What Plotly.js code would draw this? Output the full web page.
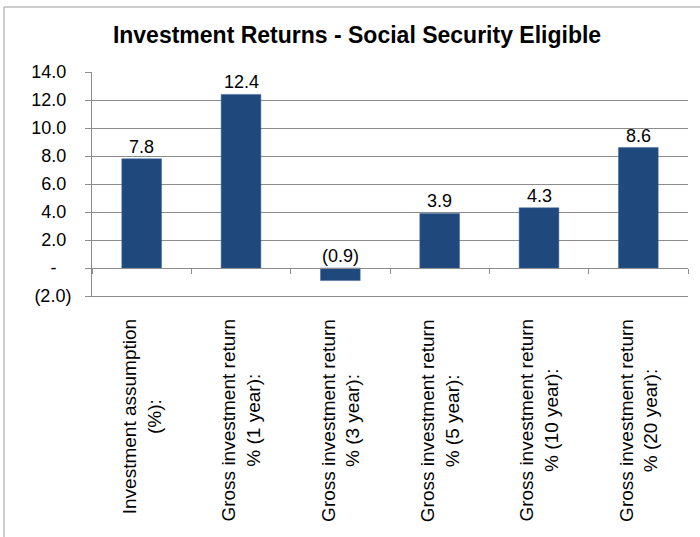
<!DOCTYPE html>
<html>
<head>
<meta charset="utf-8">
<script src="https://cdn.plot.ly/plotly-3.0.1.min.js"></script>
<style>
  html, body { margin: 0; padding: 0; background: #fff; }
  #chart { width: 700px; height: 537px; }
</style>
</head>
<body>
<div id="chart"></div>
<script>
// ---- data ----
const categories = [
  "Investment assumption<br>(%):",
  "Gross investment return<br>% (1 year):",
  "Gross investment return<br>% (3 year):",
  "Gross investment return<br>% (5 year):",
  "Gross investment return<br>% (10 year):",
  "Gross investment return<br>% (20 year):"
];
const values = [7.8, 12.4, -0.9, 3.9, 4.3, 8.6];
const yTickVals = [-2, 0, 2, 4, 6, 8, 10, 12, 14];
const yTickText = ["(2.0)", "-\u00a0\u00a0\u00a0", "2.0\u00a0", "4.0\u00a0", "6.0\u00a0", "8.0\u00a0", "10.0\u00a0", "12.0\u00a0", "14.0\u00a0"];
const chartTitle = "Investment Returns - Social Security Eligible";

// ---- styling ----
const FONT = "Liberation Sans, Arial, sans-serif";
const BAR = "#1F497D";
const GRID = "#8c8c8c";

function fmt(v) {
  return v < 0 ? "(" + Math.abs(v).toFixed(1) + ")" : v.toFixed(1);
}

const idx = categories.map((_, i) => i);

const traces = [
  {
    type: "bar",
    x: idx,
    y: values,
    marker: { color: BAR, line: { color: "#3f6696", width: 0.5 } },
    hoverinfo: "skip",
    showlegend: false
  },
  {
    type: "scatter",
    mode: "none",
    x: [-0.5, categories.length - 0.5],
    y: [0, 0],
    xaxis: "x2",
    yaxis: "y",
    hoverinfo: "skip",
    showlegend: false
  }
];

const boundaries = [];
for (let i = 0; i <= categories.length; i++) boundaries.push(i - 0.5);

const annotations = [];
values.forEach((v, i) => {
  annotations.push({
    x: i, y: Math.max(v, 0), xref: "x", yref: "y",
    text: fmt(v), showarrow: false, yanchor: "bottom", yshift: 0,
    font: { family: FONT, size: 18, color: "#000" }
  });
});
categories.forEach((c, i) => {
  annotations.push({
    x: i, y: -0.094, xref: "x", yref: "paper",
    text: c, showarrow: false, textangle: -90,
    xanchor: "center", yanchor: "top", align: "center",
    font: { family: FONT, size: 19, color: "#000" }
  });
});

const layout = {
  width: 700,
  height: 537,
  margin: { l: 92, r: 12, t: 72, b: 241 },
  paper_bgcolor: "#fff",
  plot_bgcolor: "#fff",
  bargap: 0.6,
  showlegend: false,
  title: {
    text: "<b>" + chartTitle + "</b>",
    xref: "container", x: 0.51, xanchor: "center",
    yref: "container", y: 0.935, yanchor: "middle",
    font: { family: FONT, size: 23, color: "#000" }
  },
  xaxis: {
    type: "linear",
    range: [-0.5, categories.length - 0.5],
    showticklabels: false, showgrid: false,
    showline: true, linecolor: GRID, linewidth: 1,
    zeroline: false, ticks: "", fixedrange: true
  },
  xaxis2: {
    type: "linear",
    overlaying: "x",
    anchor: "free",
    position: 2 / 16,
    range: [-0.5, categories.length - 0.5],
    tickvals: boundaries,
    ticks: "outside", ticklen: 5, tickcolor: GRID, tickwidth: 1,
    showticklabels: false, showgrid: false,
    showline: true, linecolor: GRID, linewidth: 1,
    zeroline: false, fixedrange: true
  },
  yaxis: {
    range: [-2, 14],
    tickvals: yTickVals,
    ticktext: yTickText,
    ticks: "outside", ticklen: 6, tickcolor: GRID,
    showgrid: true, gridcolor: GRID, gridwidth: 1,
    showline: true, linecolor: GRID, linewidth: 1,
    zeroline: true, zerolinecolor: GRID, zerolinewidth: 1,
    tickfont: { family: FONT, size: 18, color: "#000" },
    ticklabelstandoff: 10,
    fixedrange: true
  },
  annotations: annotations,
  shapes: [
    { type: "line", xref: "paper", yref: "paper",
      x0: (4 - 92) / 596, x1: (4 - 92) / 596, y0: (296 - 7) / 224, y1: (296 - 545) / 224,
      line: { color: "#9a9a9a", width: 1 } },
    { type: "line", xref: "paper", yref: "paper",
      x0: (4 - 92) / 596, x1: (705 - 92) / 596, y0: (296 - 7) / 224, y1: (296 - 7) / 224,
      line: { color: "#9a9a9a", width: 1 } }
  ]
};

Plotly.newPlot("chart", traces, layout, { displayModeBar: false, staticPlot: true });
</script>
</body>
</html>
